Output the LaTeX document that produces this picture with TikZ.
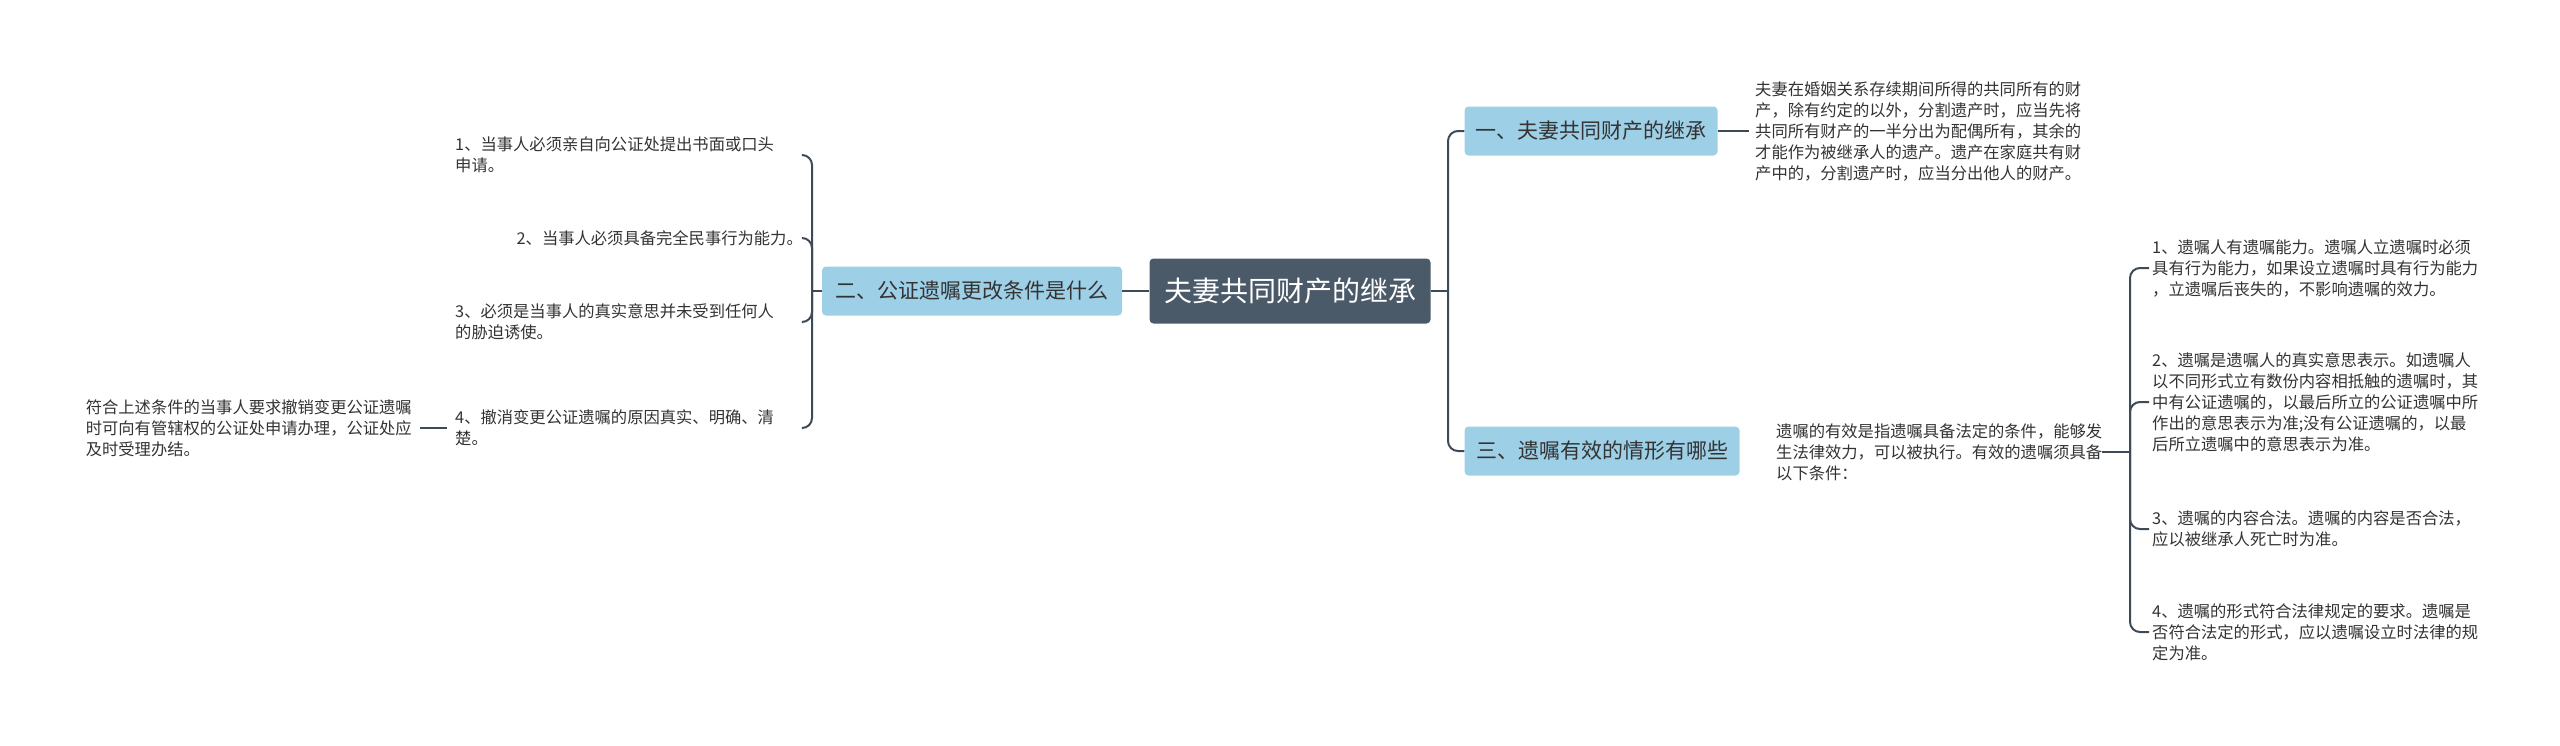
\documentclass[tikz,border=0pt]{standalone}
\usepackage{fontspec}
\usetikzlibrary{calc}
\newfontfamily\cjk{Noto Sans CJK SC}
\definecolor{rootc}{HTML}{4B5A69}
\definecolor{brc}{HTML}{9DCFE6}
\definecolor{linec}{HTML}{3D4A57}
\definecolor{txtc}{HTML}{333333}
\tikzset{
  rootbox/.style={fill=rootc,rounded corners=4pt,text=white,font=\cjk\fontsize{28}{32}\selectfont,minimum width=281pt,minimum height=65pt,inner sep=0pt},
  brbox/.style={fill=brc,rounded corners=4pt,text=txtc,font=\cjk\fontsize{21}{25}\selectfont,minimum height=49pt,inner xsep=8pt},
  small/.style={text=txtc,font=\cjk\fontsize{16.3}{21}\selectfont,inner sep=0pt,align=left},
  conn/.style={draw=linec,line width=2pt,rounded corners=10pt}
}
\begin{document}
\begin{tikzpicture}[x=1pt,y=-1pt]
\useasboundingbox (0,0) rectangle (2560,745);
\node[rootbox] (root) at (1290,291) {夫妻共同财产的继承};
\node[brbox,minimum width=253pt] (b1) at (1591,131) {一、夫妻共同财产的继承};
\node[brbox,minimum width=275pt] (b3) at (1602,451) {三、遗嘱有效的情形有哪些};
\node[brbox,minimum width=300pt] (b2) at (972,291) {二、公证遗嘱更改条件是什么};
\node[small,anchor=west] (t1) at (1755,131) {夫妻在婚姻关系存续期间所得的共同所有的财\\产，除有约定的以外，分割遗产时，应当先将\\共同所有财产的一半分出为配偶所有，其余的\\才能作为被继承人的遗产。遗产在家庭共有财\\产中的，分割遗产时，应当分出他人的财产。};
\node[small,anchor=west] (t3) at (1776,452) {遗嘱的有效是指遗嘱具备法定的条件，能够发\\生法律效力，可以被执行。有效的遗嘱须具备\\以下条件：};
\node[small,anchor=west] (r1) at (2152,268) {1、遗嘱人有遗嘱能力。遗嘱人立遗嘱时必须\\具有行为能力，如果设立遗嘱时具有行为能力\\，立遗嘱后丧失的，不影响遗嘱的效力。};
\node[small,anchor=west] (r2) at (2152,402) {2、遗嘱是遗嘱人的真实意思表示。如遗嘱人\\以不同形式立有数份内容相抵触的遗嘱时，其\\中有公证遗嘱的，以最后所立的公证遗嘱中所\\作出的意思表示为准;没有公证遗嘱的，以最\\后所立遗嘱中的意思表示为准。};
\node[small,anchor=west] (r3) at (2152,529) {3、遗嘱的内容合法。遗嘱的内容是否合法，\\应以被继承人死亡时为准。};
\node[small,anchor=west] (r4) at (2152,632) {4、遗嘱的形式符合法律规定的要求。遗嘱是\\否符合法定的形式，应以遗嘱设立时法律的规\\定为准。};
\node[small,anchor=west] (l1) at (455,155) {1、当事人必须亲自向公证处提出书面或口头\\申请。};
\node[small,anchor=east] (l2) at (803,238) {2、当事人必须具备完全民事行为能力。};
\node[small,anchor=west] (l3) at (455,322) {3、必须是当事人的真实意思并未受到任何人\\的胁迫诱使。};
\node[small,anchor=west] (l4) at (455,428) {4、撤消变更公证遗嘱的原因真实、明确、清\\楚。};
\node[small,anchor=east] (f1) at (412,428) {符合上述条件的当事人要求撤销变更公证遗嘱\\时可向有管辖权的公证处申请办理，公证处应\\及时受理办结。};
% connectors
\coordinate (jr) at (1448,291);
\draw[conn] (root.east) -- (jr);
\draw[conn] (jr) |- (b1.west);
\draw[conn] (jr) |- (b3.west);
\draw[conn] (root.west) -- (b2.east);
\draw[conn] (b1.east) -- ($(t1.west)+(-6,0)$);
\coordinate (jt) at (2130,452);
\draw[conn] (t3.east) -- (jt);
\foreach \n in {r1,r2,r3,r4} \draw[conn] (jt) |- ($(\n.west)+(-3,0)$);
\coordinate (jl) at (812,291);
\draw[conn] (b2.west) -- (jl);
\draw[conn] (jl) |- (803,155);
\draw[conn] (jl) |- (l2.east);
\draw[conn] (jl) |- (803,322);
\draw[conn] (jl) |- (803,428);
\draw[conn] ($(f1.east)+(8,0)$) -- ($(l4.west)+(-8,0)$);
\end{tikzpicture}
\end{document}
